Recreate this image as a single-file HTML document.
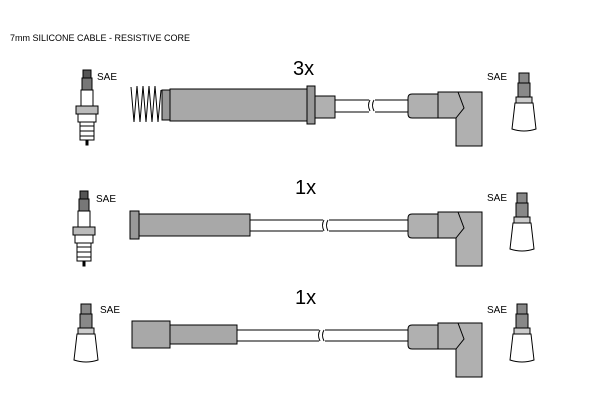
<!DOCTYPE html>
<html><head><style>body{margin:0;background:#fff}svg{display:block}</style></head><body>
<svg width="600" height="400" viewBox="0 0 600 400" xmlns="http://www.w3.org/2000/svg" font-family="Liberation Sans, sans-serif">
<defs>
<g id="plug" stroke="#000" stroke-width="1">
  <rect x="-4" y="0" width="8" height="8" fill="#555"/>
  <rect x="-5" y="8" width="10" height="12" fill="#777"/>
  <rect x="-6" y="20" width="12" height="16" fill="#fff"/>
  <rect x="-11" y="36" width="22" height="8" fill="#bbb"/>
  <rect x="-9" y="44" width="18" height="8" fill="#fff"/>
  <rect x="-7" y="52" width="14" height="18" fill="#fff"/>
  <line x1="-7" y1="56" x2="7" y2="56"/><line x1="-7" y1="61" x2="7" y2="61"/><line x1="-7" y1="66" x2="7" y2="66"/>
  <rect x="-1" y="70" width="2" height="5" fill="#000"/>
</g>
<g id="cap" stroke="#000" stroke-width="1">
  <rect x="-5" y="0" width="10" height="10" fill="#888"/>
  <rect x="-6" y="10" width="12" height="14" fill="#888"/>
  <rect x="-8" y="24" width="16" height="6" fill="#ccc"/>
  <path d="M-9 30 L9 30 L12 56 Q0 60 -12 56 Z" fill="#fff"/>
</g>
<g id="rboot" stroke="#000" stroke-width="1" fill="#b0b0b0">
  <path d="M0 4 Q0 0 4 0 L30 0 L30 24 L4 24 Q0 24 0 20 Z"/>
  <path d="M30 -2 L48 -2 L74 -2 Q74 -2 74 0 L74 52 L48 52 L48 24 L30 24 Z"/>
  <path d="M48 24 L56 14 L50 -2" fill="none"/>
</g>
<g id="brk" stroke="#000" fill="none" stroke-width="1">
  <path d="M0 0 Q-3 5 0 11 M4 0 Q1 5 4 11"/>
</g>
</defs>
<text x="10" y="41" font-size="9">7mm SILICONE CABLE - RESISTIVE CORE</text>

<!-- Row 1 -->
<text x="293" y="75" font-size="20">3x</text>
<use href="#plug" x="87" y="70"/>
<text x="97" y="80" font-size="10">SAE</text>
<path d="M131 87 L134 122 L137 86 L140 122 L143 86 L146 122 L149 86 L152 122 L155 86 L158 122 L161 90" fill="none" stroke="#000"/>
<rect x="162" y="90" width="10" height="30" fill="#999" stroke="#000"/>
<rect x="170" y="89" width="140" height="32" fill="#a8a8a8" stroke="#000"/>
<rect x="307" y="86" width="8" height="38" fill="#999" stroke="#000"/>
<rect x="315" y="96" width="20" height="22" fill="#b0b0b0" stroke="#000"/>
<rect x="335" y="100" width="73" height="12" fill="#fff" stroke="#000"/>
<rect x="369" y="99" width="6" height="14" fill="#fff"/>
<use href="#brk" x="370" y="100"/>
<use href="#rboot" x="408" y="94"/>
<text x="487" y="80" font-size="10">SAE</text>
<use href="#cap" x="524" y="73"/>

<!-- Row 2 -->
<text x="295" y="194" font-size="20">1x</text>
<use href="#plug" x="84" y="191"/>
<text x="96" y="202" font-size="10">SAE</text>
<rect x="130" y="211" width="9" height="28" fill="#999" stroke="#000"/>
<rect x="139" y="214" width="111" height="22" fill="#a8a8a8" stroke="#000"/>
<rect x="250" y="220" width="158" height="11" fill="#fff" stroke="#000"/>
<rect x="323" y="219" width="6" height="13" fill="#fff"/>
<use href="#brk" x="324" y="220"/>
<use href="#rboot" x="408" y="214"/>
<text x="487" y="201" font-size="10">SAE</text>
<use href="#cap" x="522" y="193"/>

<!-- Row 3 -->
<text x="295" y="304" font-size="20">1x</text>
<use href="#cap" x="86" y="304"/>
<text x="100" y="313" font-size="10">SAE</text>
<rect x="132" y="321" width="38" height="27" fill="#a8a8a8" stroke="#000"/>
<rect x="170" y="325" width="67" height="19" fill="#a8a8a8" stroke="#000"/>
<rect x="237" y="330" width="171" height="11" fill="#fff" stroke="#000"/>
<rect x="319" y="329" width="6" height="13" fill="#fff"/>
<use href="#brk" x="320" y="330"/>
<use href="#rboot" x="408" y="325"/>
<text x="487" y="313" font-size="10">SAE</text>
<use href="#cap" x="522" y="304"/>
</svg>
</body></html>
